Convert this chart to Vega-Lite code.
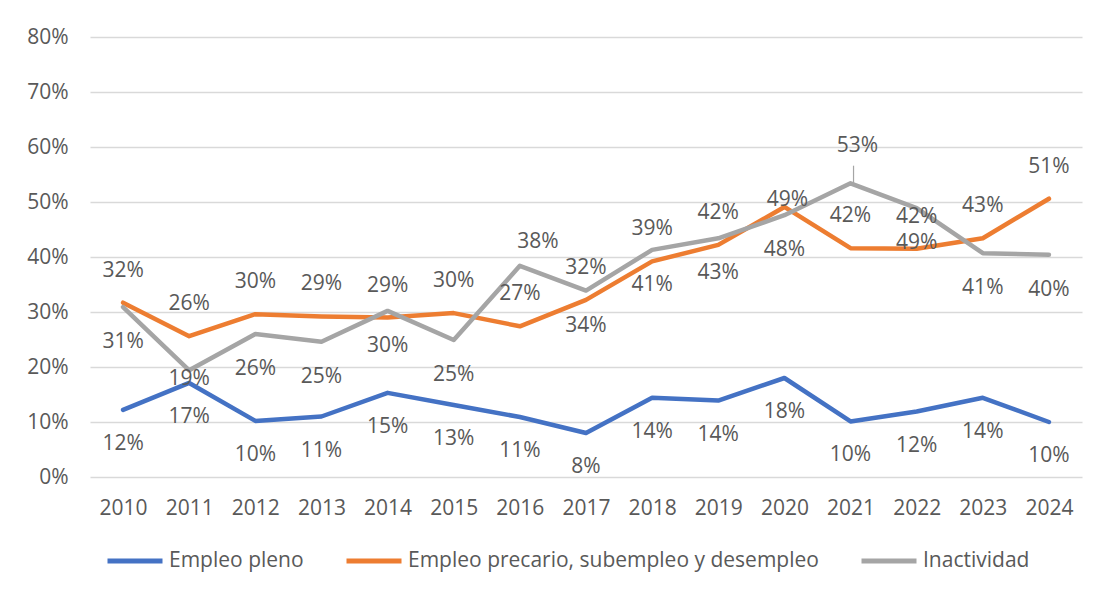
{
  "$schema": "https://vega.github.io/schema/vega-lite/v6.json",
  "width": 992,
  "height": 440,
  "autosize": {"type": "none"},
  "padding": {"left": 90, "top": 37, "right": 12, "bottom": 114},
  "background": "white",
  "config": {
    "font": "Open Sans",
    "view": {"stroke": null},
    "text": {"font": "Open Sans", "fontSize": 21, "color": "#595959"}
  },
  "data": {
    "values": [
      {"year": "2010", "series": "Empleo pleno", "value": 0.122},
      {"year": "2011", "series": "Empleo pleno", "value": 0.171},
      {"year": "2012", "series": "Empleo pleno", "value": 0.102},
      {"year": "2013", "series": "Empleo pleno", "value": 0.11},
      {"year": "2014", "series": "Empleo pleno", "value": 0.153},
      {"year": "2015", "series": "Empleo pleno", "value": 0.131},
      {"year": "2016", "series": "Empleo pleno", "value": 0.109},
      {"year": "2017", "series": "Empleo pleno", "value": 0.08},
      {"year": "2018", "series": "Empleo pleno", "value": 0.144},
      {"year": "2019", "series": "Empleo pleno", "value": 0.139},
      {"year": "2020", "series": "Empleo pleno", "value": 0.18},
      {"year": "2021", "series": "Empleo pleno", "value": 0.101},
      {"year": "2022", "series": "Empleo pleno", "value": 0.119},
      {"year": "2023", "series": "Empleo pleno", "value": 0.144},
      {"year": "2024", "series": "Empleo pleno", "value": 0.1},
      {"year": "2010", "series": "Empleo precario, subempleo y desempleo", "value": 0.317},
      {"year": "2011", "series": "Empleo precario, subempleo y desempleo", "value": 0.256},
      {"year": "2012", "series": "Empleo precario, subempleo y desempleo", "value": 0.296},
      {"year": "2013", "series": "Empleo precario, subempleo y desempleo", "value": 0.292},
      {"year": "2014", "series": "Empleo precario, subempleo y desempleo", "value": 0.29},
      {"year": "2015", "series": "Empleo precario, subempleo y desempleo", "value": 0.298},
      {"year": "2016", "series": "Empleo precario, subempleo y desempleo", "value": 0.274},
      {"year": "2017", "series": "Empleo precario, subempleo y desempleo", "value": 0.322},
      {"year": "2018", "series": "Empleo precario, subempleo y desempleo", "value": 0.392},
      {"year": "2019", "series": "Empleo precario, subempleo y desempleo", "value": 0.422},
      {"year": "2020", "series": "Empleo precario, subempleo y desempleo", "value": 0.491},
      {"year": "2021", "series": "Empleo precario, subempleo y desempleo", "value": 0.416},
      {"year": "2022", "series": "Empleo precario, subempleo y desempleo", "value": 0.415},
      {"year": "2023", "series": "Empleo precario, subempleo y desempleo", "value": 0.434},
      {"year": "2024", "series": "Empleo precario, subempleo y desempleo", "value": 0.506},
      {"year": "2010", "series": "Inactividad", "value": 0.309},
      {"year": "2011", "series": "Inactividad", "value": 0.194},
      {"year": "2012", "series": "Inactividad", "value": 0.26},
      {"year": "2013", "series": "Inactividad", "value": 0.246},
      {"year": "2014", "series": "Inactividad", "value": 0.302},
      {"year": "2015", "series": "Inactividad", "value": 0.249},
      {"year": "2016", "series": "Inactividad", "value": 0.384},
      {"year": "2017", "series": "Inactividad", "value": 0.339},
      {"year": "2018", "series": "Inactividad", "value": 0.413},
      {"year": "2019", "series": "Inactividad", "value": 0.434},
      {"year": "2020", "series": "Inactividad", "value": 0.476},
      {"year": "2021", "series": "Inactividad", "value": 0.534},
      {"year": "2022", "series": "Inactividad", "value": 0.489},
      {"year": "2023", "series": "Inactividad", "value": 0.407},
      {"year": "2024", "series": "Inactividad", "value": 0.404}
    ]
  },
  "encoding": {
    "x": {
      "field": "year", "type": "ordinal",
      "scale": {"type": "point", "padding": 0.5},
      "axis": {"title": null, "labelAngle": 0, "domain": false, "ticks": false, "labelPadding": 20, "labelFontSize": 21, "labelColor": "#595959", "labelFont": "Open Sans"}
    },
    "y": {
      "field": "value", "type": "quantitative",
      "scale": {"domain": [0, 0.8], "nice": false},
      "axis": {"title": null, "values": [0, 0.1, 0.2, 0.3, 0.4, 0.5, 0.6, 0.7, 0.8], "format": ".0%", "domain": false, "ticks": false, "labelPadding": 22, "labelFontSize": 21, "labelColor": "#595959", "labelFont": "Open Sans", "gridColor": "#d9d9d9", "gridWidth": 1.3}
    }
  },
  "layer": [
    {
      "mark": {"type": "line", "strokeWidth": 4.5, "strokeCap": "round", "strokeJoin": "round"},
      "encoding": {
        "color": {
          "field": "series", "type": "nominal",
          "scale": {"domain": ["Empleo pleno", "Empleo precario, subempleo y desempleo", "Inactividad"], "range": ["#4472C4", "#ED7D31", "#A5A5A5"]},
          "legend": {"title": null, "orient": "none", "legendX": 15, "legendY": 494, "direction": "horizontal", "symbolType": "stroke", "symbolSize": 3025, "symbolStrokeWidth": 5, "labelFontSize": 21, "labelFont": "Open Sans", "labelColor": "#595959", "labelOffset": 4, "columnPadding": 32, "labelLimit": 600}
        }
      }
    },
    {
      "transform": [{"filter": "datum.series === 'Inactividad' && datum.year === '2021'"}],
      "mark": {"type": "rule", "color": "#A5A5A5", "strokeWidth": 1.2, "xOffset": 3},
      "encoding": {"y2": {"datum": 0.566}}
    },
    {
      "transform": [{"filter": "datum.series === 'Empleo pleno'"}],
      "mark": {"type": "text", "dy": 34},
      "encoding": {"text": {"field": "value", "type": "quantitative", "format": ".0%"}}
    },
    {
      "transform": [{"filter": "datum.series === 'Empleo precario, subempleo y desempleo' && datum.year !== '2020'"}],
      "mark": {"type": "text", "dy": -32},
      "encoding": {"text": {"field": "value", "type": "quantitative", "format": ".0%"}}
    },
    {
      "transform": [{"filter": "datum.series === 'Empleo precario, subempleo y desempleo' && datum.year === '2020'"}],
      "mark": {"type": "text", "dy": -7, "dx": 3},
      "encoding": {"text": {"field": "value", "type": "quantitative", "format": ".0%"}}
    },
    {
      "transform": [{"filter": "datum.series === 'Inactividad' && indexof(['2011', '2016', '2021'], datum.year) < 0"}],
      "mark": {"type": "text", "dy": 35},
      "encoding": {"text": {"field": "value", "type": "quantitative", "format": ".0%"}}
    },
    {
      "transform": [{"filter": "datum.series === 'Inactividad' && datum.year === '2011'"}],
      "mark": {"type": "text", "dy": 9},
      "encoding": {"text": {"field": "value", "type": "quantitative", "format": ".0%"}}
    },
    {
      "transform": [{"filter": "datum.series === 'Inactividad' && datum.year === '2016'"}],
      "mark": {"type": "text", "dy": -24, "dx": 18},
      "encoding": {"text": {"field": "value", "type": "quantitative", "format": ".0%"}}
    },
    {
      "transform": [{"filter": "datum.series === 'Inactividad' && datum.year === '2021'"}],
      "mark": {"type": "text", "dy": -37, "dx": 7},
      "encoding": {"text": {"field": "value", "type": "quantitative", "format": ".0%"}}
    }
  ]
}
